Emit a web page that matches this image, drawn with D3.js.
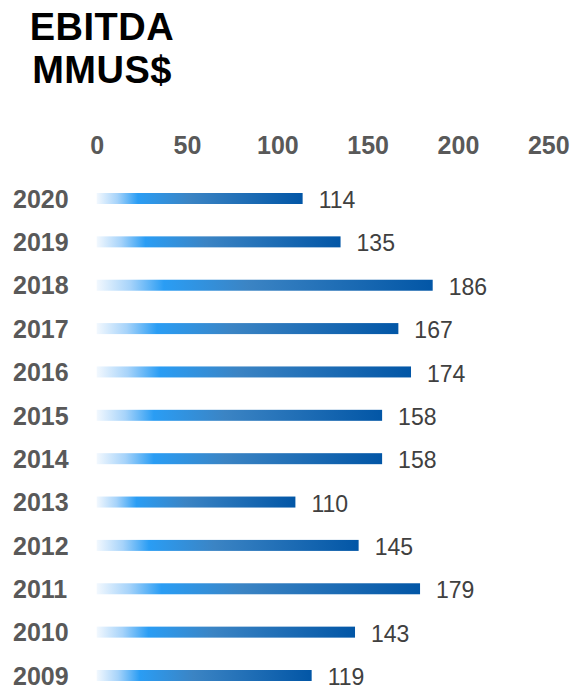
<!DOCTYPE html>
<html lang='en'>
<head>
  <meta charset='UTF-8'>
  <title>EBITDA</title>
  <script src='https://d3js.org/d3.v7.min.js'></script>
  <style>
    body { margin: 0; background: #fff; }
    #main { width: 574px; height: 685px; }
  </style>
</head>
<body>
<div id='main'></div>
<script>
  // 数据
  const years = ['2020', '2019', '2018', '2017', '2016', '2015', '2014', '2013', '2012', '2011', '2010', '2009']
  const values = [114, 135, 186, 167, 174, 158, 158, 110, 145, 179, 143, 119]
  const ticks = [0, 50, 100, 150, 200, 250]
  const titleLines = ['EBITDA', 'MMUS$']

  const width = 574
  const height = 685
  const font = 'Arial, "Liberation Sans", sans-serif'

  const svg = d3.select('#main').append('svg')
    .attr('width', width)
    .attr('height', height)

  // 渐变色
  const grad = svg.append('defs').append('linearGradient')
    .attr('id', 'barGrad')
    .attr('x1', '0%').attr('y1', '0%')
    .attr('x2', '100%').attr('y2', '0%')
  const stops = [
    ['0%', '#f2f8fe'],
    ['10%', '#a6d3fa'],
    ['20%', '#2a9df4'],
    ['45%', '#3b84c4'],
    ['100%', '#0256a6']
  ]
  stops.forEach(s => grad.append('stop').attr('offset', s[0]).attr('stop-color', s[1]))

  const x = d3.scaleLinear().domain([0, 250]).range([96.7, 548.3])
  const y = d3.scalePoint().domain(years).range([198.5, 675.5])
  const barH = 11

  // 标题
  svg.append('g').selectAll('text')
    .data(titleLines)
    .enter().append('text')
    .attr('x', 102)
    .attr('y', (d, i) => 40 + i * 43)
    .attr('text-anchor', 'middle')
    .style('font-family', font)
    .style('font-weight', 'bold')
    .style('font-size', '38px')
    .style('letter-spacing', '0.5px')
    .style('fill', '#000')
    .text(d => d)

  // 顶部刻度
  const axis = d3.axisTop(x).tickValues(ticks).tickSize(0).tickPadding(0)
  const ax = svg.append('g')
    .attr('transform', 'translate(0,154)')
    .call(axis)
  ax.select('.domain').remove()
  ax.selectAll('text')
    .style('font-family', font)
    .style('font-weight', 'bold')
    .style('font-size', '25px')
    .style('fill', '#595959')

  // 年份
  svg.append('g').selectAll('text')
    .data(years)
    .enter().append('text')
    .attr('x', 13)
    .attr('y', d => y(d) + 0.5)
    .attr('dy', '0.35em')
    .style('font-family', font)
    .style('font-weight', 'bold')
    .style('font-size', '25px')
    .style('fill', '#595959')
    .text(d => d)

  // 条形
  svg.append('g').selectAll('rect')
    .data(values)
    .enter().append('rect')
    .attr('x', x(0))
    .attr('y', (d, i) => y(years[i]) - barH / 2)
    .attr('width', d => x(d) - x(0))
    .attr('height', barH)
    .attr('fill', 'url(#barGrad)')

  // 数值
  svg.append('g').selectAll('text')
    .data(values)
    .enter().append('text')
    .attr('x', d => x(d) + 16)
    .attr('y', (d, i) => y(years[i]) + 1.5)
    .attr('dy', '0.35em')
    .style('font-family', font)
    .style('font-size', '23px')
    .style('fill', '#404040')
    .text(d => d)
</script>
</body>
</html>
